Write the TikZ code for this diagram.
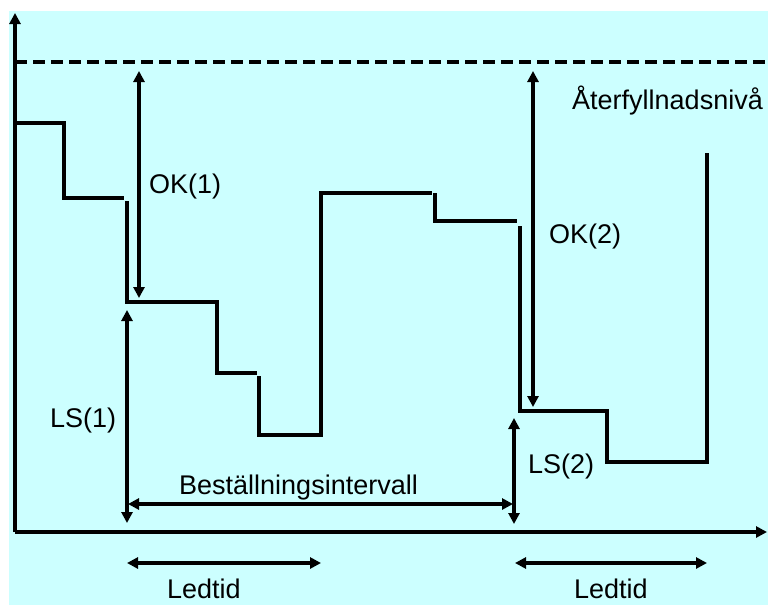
\documentclass[tikz,border=0pt]{standalone}
\usepackage{fontspec}
\setmainfont{Liberation Sans}
\usetikzlibrary{arrows.meta}
\definecolor{bgcyan}{HTML}{CCFFFF}
\begin{document}
\begin{tikzpicture}[x=1pt,y=-1pt,
  stair/.style={line width=3.2pt,line join=miter},
  axis/.style={line width=3.2pt,-{Triangle[width=11pt,length=11pt]}},
  dim/.style={line width=3.2pt,{Triangle[width=11pt,length=11pt]}-{Triangle[width=11pt,length=11pt]}},
  lbl/.style={inner sep=0pt,anchor=base west,font=\fontsize{27}{31}\selectfont}]
\useasboundingbox (0,0) rectangle (768,605);
\fill[white] (0,0) rectangle (768,605);
\fill[bgcyan] (9,11) rectangle (768,605);
% axes
\coordinate (O) at (15,532);
\coordinate (ytop) at (15,13);
\coordinate (xend) at (767,532);
\draw[axis] (O) -- (ytop);
\draw[axis] (O) -- (xend);
% refill level
\coordinate (dl) at (15,62);
\coordinate (dr) at (768,62);
\draw[line width=3.2pt,dash pattern=on 12pt off 6pt] (dl) -- (dr);
% staircase
\coordinate (s1) at (15,123); \coordinate (s2) at (64,123); \coordinate (s3) at (64,198); \coordinate (s4) at (124,198);
\draw[stair] (s1) -- (s2) -- (s3) -- (s4);
\coordinate (t1) at (127,201); \coordinate (t2) at (127,302); \coordinate (t3) at (217,302); \coordinate (t4) at (217,373); \coordinate (t5) at (257,373);
\draw[stair] (t1) -- (t2) -- (t3) -- (t4) -- (t5);
\coordinate (u1) at (259,376); \coordinate (u2) at (259,435); \coordinate (u3) at (321,435); \coordinate (u4) at (321,193); \coordinate (u5) at (432,193);
\draw[stair] (u1) -- (u2) -- (u3) -- (u4) -- (u5);
\coordinate (v1) at (435,193); \coordinate (v2) at (435,221); \coordinate (v3) at (517,221);
\draw[stair] (v1) -- (v2) -- (v3);
\coordinate (w1) at (520,226); \coordinate (w2) at (520,411); \coordinate (w3) at (607,411); \coordinate (w4) at (607,462); \coordinate (w5) at (707,462); \coordinate (w6) at (707,153);
\draw[stair] (w1) -- (w2) -- (w3) -- (w4) -- (w5) -- (w6);
% dimension arrows
\coordinate (ok1a) at (139,71); \coordinate (ok1b) at (139,298);
\draw[dim] (ok1a) -- (ok1b);
\coordinate (ls1a) at (127,310); \coordinate (ls1b) at (127,523);
\draw[dim] (ls1a) -- (ls1b);
\coordinate (bia) at (128,504); \coordinate (bib) at (513,504);
\draw[dim] (bia) -- (bib);
\coordinate (ls2a) at (514,418); \coordinate (ls2b) at (514,524);
\draw[dim] (ls2a) -- (ls2b);
\coordinate (ok2a) at (533,71); \coordinate (ok2b) at (533,407);
\draw[dim] (ok2a) -- (ok2b);
\coordinate (lt1a) at (127,563); \coordinate (lt1b) at (321,563);
\draw[dim] (lt1a) -- (lt1b);
\coordinate (lt2a) at (515,563); \coordinate (lt2b) at (707,563);
\draw[dim] (lt2a) -- (lt2b);
% labels
\node[lbl] (tok1) at (149,193) {OK(1)};
\node[lbl] (tok2) at (549,243) {OK(2)};
\node[lbl] (tls1) at (50,427) {LS(1)};
\node[lbl] (tls2) at (528,473) {LS(2)};
\node[lbl] (tbi) at (179,494) {Beställningsintervall};
\node[lbl] (tref) at (572,109) {Återfyllnadsnivå};
\node[lbl] (tlt1) at (167,598) {Ledtid};
\node[lbl] (tlt2) at (574,598) {Ledtid};
\end{tikzpicture}
\end{document}
